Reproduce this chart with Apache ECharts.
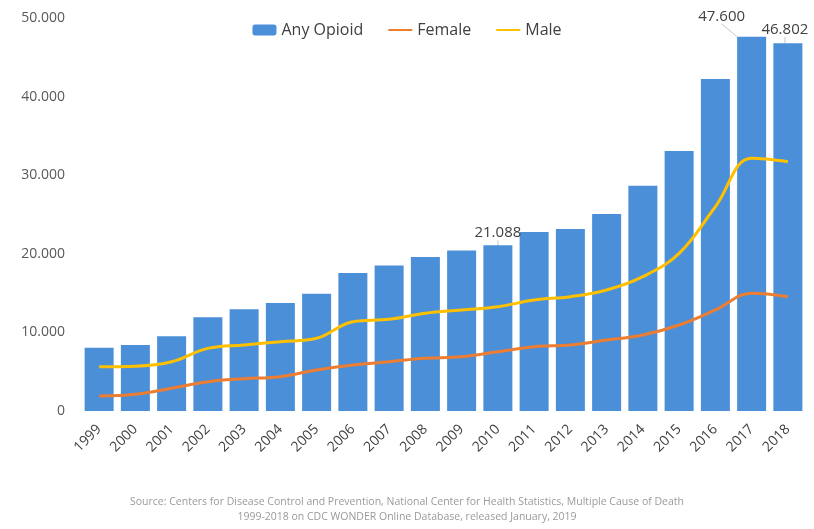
<!DOCTYPE html>
<html>
<head>
<meta charset="utf-8">
<script src="https://cdn.jsdelivr.net/npm/echarts@6/dist/echarts.min.js"></script>
<style>
  html, body { margin: 0; padding: 0; background: #fff; }
  #chart { width: 814px; height: 529px; }
</style>
</head>
<body>
<div id="chart"></div>
<script>
// opioid overdose deaths
const years = ['1999', '2000', '2001', '2002', '2003', '2004', '2005', '2006', '2007', '2008',
  '2009', '2010', '2011', '2012', '2013', '2014', '2015', '2016', '2017', '2018'];
const anyOpioid = [8048, 8407, 9496, 11920, 12940, 13756, 14918, 17545, 18516, 19582,
  20422, 21088, 22784, 23166, 25052, 28647, 33091, 42249, 47600, 46802];
const female = [1900, 2120, 2890, 3730, 4110, 4370, 5220, 5850, 6270, 6700,
  6910, 7540, 8180, 8400, 9030, 9670, 10940, 12850, 14970, 14540];
const male = [5630, 5700, 6270, 7970, 8400, 8820, 9250, 11360, 11660, 12430,
  12850, 13270, 14120, 14540, 15390, 17090, 20060, 25990, 32150, 31720];
const labelled = ['2010', '2017', '2018'];
const yTicks = { min: 0, max: 50000, interval: 10000 };
const sourceLines = [
  'Source: Centers for Disease Control and Prevention, National Center for Health Statistics, Multiple Cause of Death',
  '1999-2018 on CDC WONDER Online Database, released January, 2019'
];

function dots(v) {
  return String(v).replace(/\B(?=(\d{3})+(?!\d))/g, '.');
}

const chart = echarts.init(document.getElementById('chart'));

const barData = anyOpioid.map((v, i) => {
  if (labelled.indexOf(years[i]) < 0) return v;
  return { value: v, label: { show: true } };
});

const hideDot = { opacity: 0 };

chart.setOption({
  animation: false,
  textStyle: { fontFamily: 'Open Sans, Liberation Sans, sans-serif' },
  legend: {
    top: 17,
    left: 'center',
    itemWidth: 24,
    itemHeight: 11,
    itemGap: 24,
    textStyle: { fontSize: 16, color: '#404040' },
    data: [
      { name: 'Any Opioid' },
      { name: 'Female', itemStyle: hideDot },
      { name: 'Male', itemStyle: hideDot }
    ]
  },
  grid: { left: 81, right: 8, top: 18, bottom: 118 },
  xAxis: {
    type: 'category',
    data: years,
    axisLine: { show: false },
    axisTick: { show: false },
    axisLabel: { rotate: 45, fontSize: 14, color: '#404040', margin: 16, interval: 0 }
  },
  yAxis: {
    type: 'value',
    min: yTicks.min,
    max: yTicks.max,
    interval: yTicks.interval,
    splitLine: { show: false },
    axisLine: { show: false },
    axisLabel: { fontSize: 14, color: '#595959', margin: 16, formatter: dots }
  },
  graphic: sourceLines.map((t, i) => ({
    type: 'text', left: 'center', top: 497 + i * 15,
    style: {
      text: t, fill: '#9a9a9a', fontSize: 10.5,
      fontFamily: 'Open Sans, Liberation Sans, sans-serif'
    }
  })),
  series: [
    {
      name: 'Any Opioid',
      type: 'bar',
      data: barData,
      barCategoryGap: '20%',
      itemStyle: { color: '#4a8fd8' },
      label: {
        show: false, position: 'top', fontSize: 15, color: '#404040',
        formatter: p => dots(p.value)
      },
      labelLine: { show: true, lineStyle: { color: '#c8c8c8', width: 1 } },
      labelLayout: function (p) {
        if (p.dataIndex === 18) return { dx: -30, dy: -8 };
        if (p.dataIndex === 19) return { dx: -3, dy: -1 };
        return {};
      }
    },
    {
      name: 'Female',
      type: 'line',
      data: female,
      smooth: 0.4,
      symbol: 'none',
      lineStyle: { color: '#ed7d31', width: 3 },
      itemStyle: { color: '#ed7d31' }
    },
    {
      name: 'Male',
      type: 'line',
      data: male,
      smooth: 0.4,
      symbol: 'none',
      lineStyle: { color: '#ffc000', width: 3 },
      itemStyle: { color: '#ffc000' }
    }
  ]
});
</script>
</body>
</html>
